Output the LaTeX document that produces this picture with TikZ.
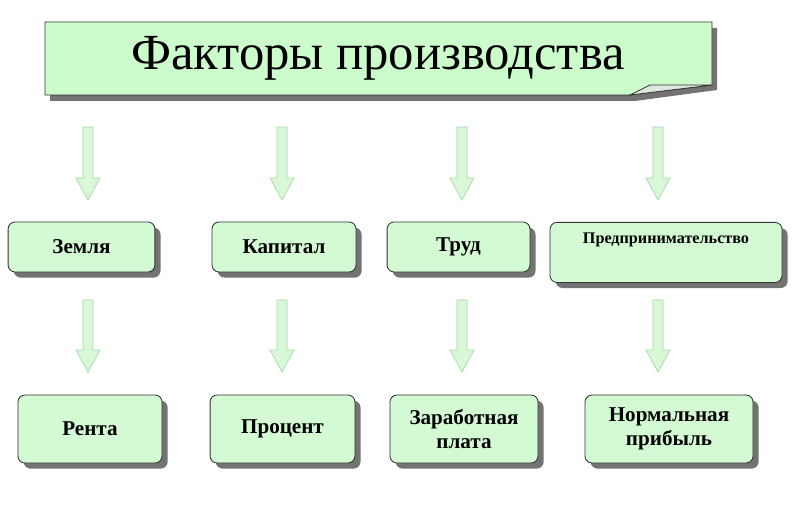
\documentclass[tikz,border=0pt]{standalone}
\usepackage{fontspec}
\setmainfont{Liberation Serif}
\usetikzlibrary{shadows}
\definecolor{boxgreen}{HTML}{D4FAD4}
\definecolor{titlegreen}{HTML}{CCFCCC}
\definecolor{arrowgreen}{HTML}{D8F8D8}
\definecolor{arrowedge}{HTML}{A8D8A8}
\tikzset{
    factorbox/.style={draw=black!80, line width=0.6pt, fill=boxgreen, rounded corners=5pt,
        drop shadow={shadow xshift=4pt, shadow yshift=-4pt, fill=black!55, opacity=1},
        font=\bfseries\fontsize{15}{17}\selectfont, align=center, inner sep=0pt}
}
% block arrow: centre x, top y, bottom y (pixels)
\newcommand{\blockarrow}[3]{%
    \draw[arrowedge, fill=arrowgreen, line width=0.5pt]
        (#1-5,#2) -- (#1+5,#2) -- (#1+5,#3-22) -- (#1+12,#3-22) -- (#1,#3)
        -- (#1-12,#3-22) -- (#1-5,#3-22) -- cycle;}
\begin{document}
\begin{tikzpicture}[x=0.025cm, y=-0.025cm]
    \useasboundingbox (0,0) rectangle (800,530);

    % === TITLE ===
    \fill[black!55] (50,28) -- (717,28) -- (717,90) -- (635,101) -- (50,101) -- cycle;
    \draw[black!80, fill=titlegreen, line width=0.6pt]
        (45,22) -- (712,22) -- (712,85) -- (630,95) -- (45,95) -- cycle;
    \draw[black!80, fill=titlegreen!70!black!30, line width=0.5pt]
        (630,95) -- (650,85) -- (712,85) -- cycle;
    \node[font=\fontsize{36}{40}\selectfont] (title) at (378,58) {Факторы производства};

    % === FACTORS ===
    \node[factorbox, minimum width=3.67cm, minimum height=1.25cm] (land) at (81.5,247) {Земля};
    \node[factorbox, minimum width=3.6cm, minimum height=1.25cm] (capital) at (284,247) {Капитал};
    \node[factorbox, minimum width=3.57cm, minimum height=1.25cm] (labour) at (458.5,247) {Труд};
    \node[factorbox, minimum width=5.8cm, minimum height=1.5cm, font=\bfseries\fontsize{11.5}{13}\selectfont,
        anchor=north, text depth=0pt] (enterprise) at (666,222) {\rule{0pt}{0.5cm}Предпринимательство\\[0.5cm]};

    % === INCOMES ===
    \node[factorbox, minimum width=3.6cm, minimum height=1.7cm] (rent) at (90,429) {Рента};
    \node[factorbox, minimum width=3.62cm, minimum height=1.7cm] (interest) at (282.5,429) {Процент};
    \node[factorbox, minimum width=3.7cm, minimum height=1.7cm] (wages) at (464,429) {Заработная\\плата};
    \node[factorbox, minimum width=4.2cm, minimum height=1.7cm] (profit) at (669,429) {Нормальная\\прибыль};

    % === ARROWS ===
    \foreach \x in {88,282,462,658} {
        \blockarrow{\x}{127}{200}
    }
    \foreach \x in {88,282,462,658} {
        \blockarrow{\x}{300}{372}
    }
\end{tikzpicture}
\end{document}
